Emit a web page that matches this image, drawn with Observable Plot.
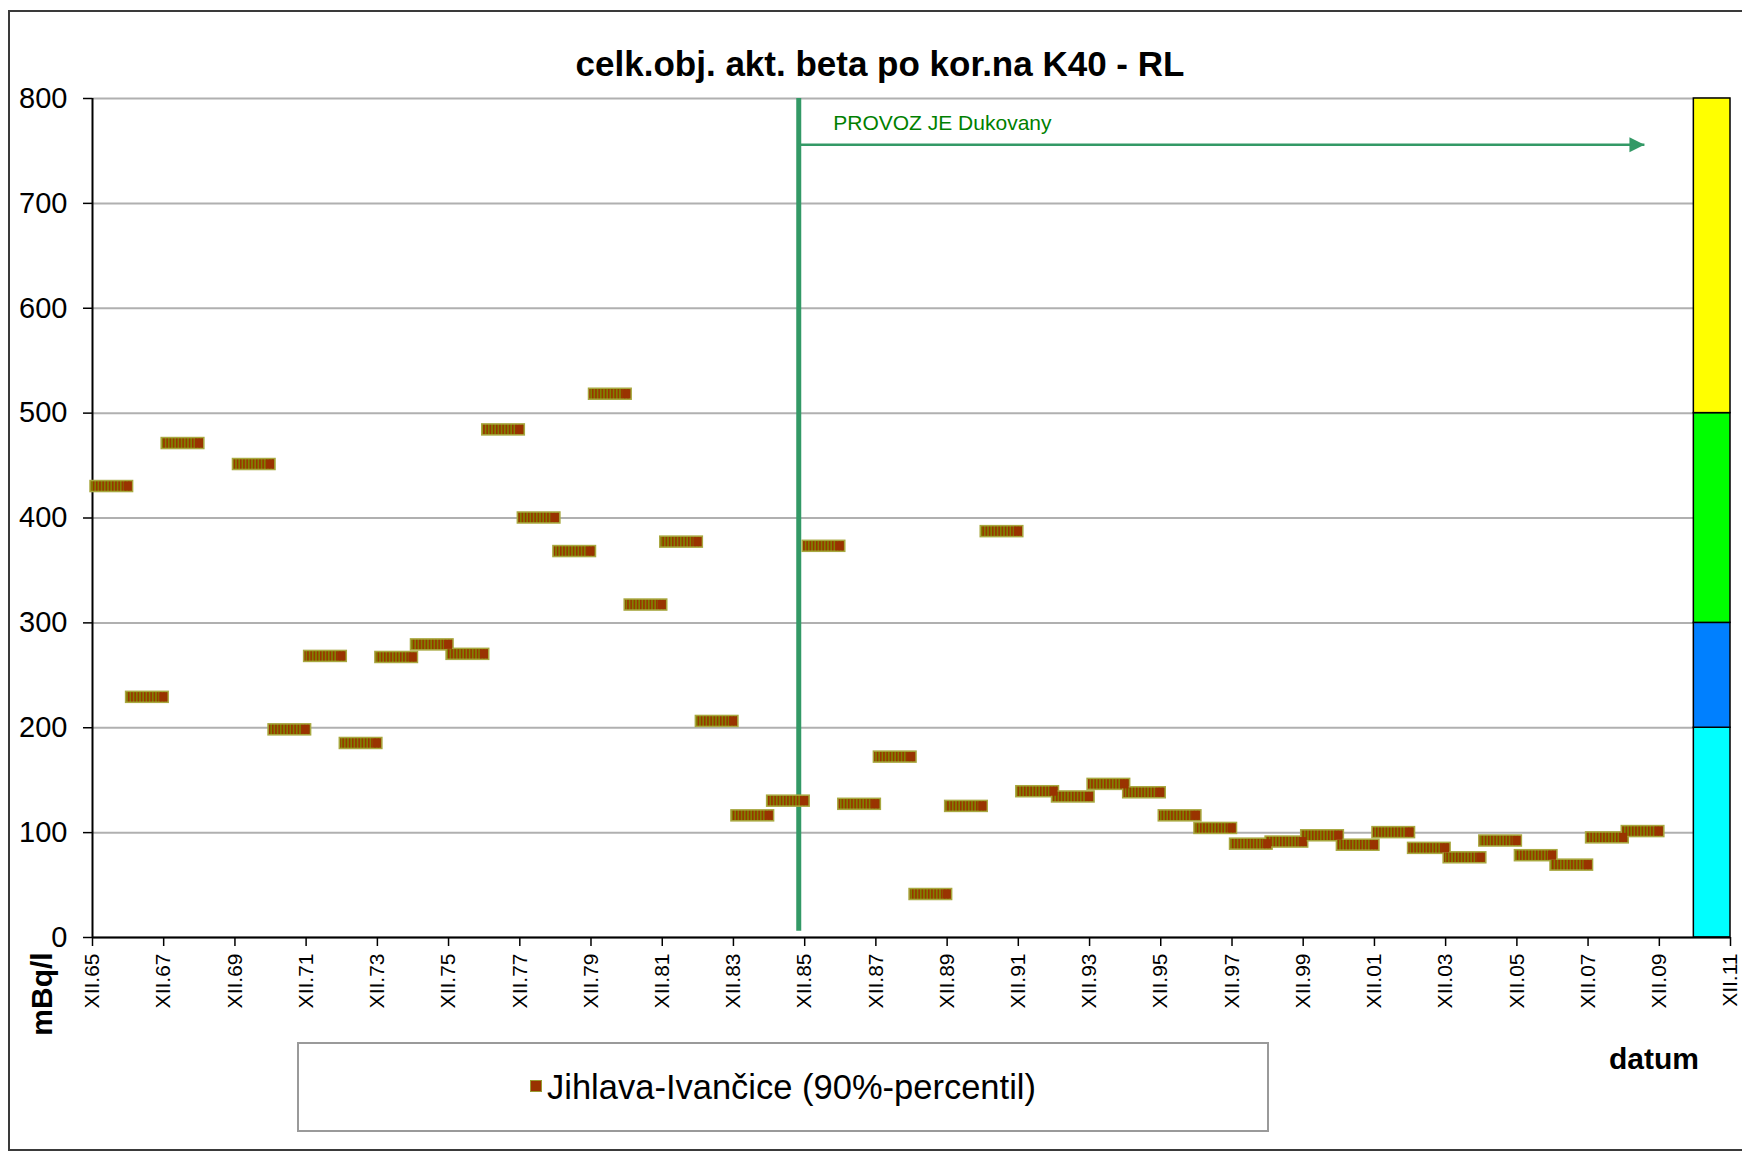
<!DOCTYPE html>
<html>
<head>
<meta charset="utf-8">
<script src="https://cdn.jsdelivr.net/npm/d3@7"></script>
<script src="https://cdn.jsdelivr.net/npm/@observablehq/plot@0.6"></script>
<style>
  body { margin: 0; background: white; font-family: "Liberation Sans", Arial, sans-serif; }
  #wrap { position: relative; width: 1742px; height: 1152px; overflow: hidden; }
  #frame { position: absolute; left: 8px; top: 10px; width: 1740px; height: 1141px; border: 2px solid #3a3a3a; box-sizing: border-box; pointer-events: none; }
  .abs { position: absolute; white-space: nowrap; transform: translate(-50%, -50%); color: #000; }
  #title { left: 880px; top: 64px; font-size: 35px; font-weight: bold; }
  #ylab { left: 42px; top: 994px; font-size: 30px; font-weight: bold; transform: translate(-50%, -50%) rotate(-90deg); }
  #xlab { left: 1654px; top: 1059px; font-size: 30px; font-weight: bold; }
  #legend { position: absolute; left: 297px; top: 1042px; width: 972px; height: 90px; border: 2px solid #9a9a9a; box-sizing: border-box; display: flex; align-items: center; justify-content: center; font-size: 34.5px; }
  #legend .sw { width: 10px; height: 10px; background: #993300; border: 1px solid #9a9a30; margin-right: 5px; margin-top: -2px; }
</style>
</head>
<body>
<div id="wrap">
  <div id="chart"></div>
  <div id="frame"></div>
  <div id="title" class="abs">celk.obj. akt. beta po kor.na K40 - RL</div>
  <div id="ylab" class="abs">mBq/l</div>
  <div id="xlab" class="abs">datum</div>
  <div id="legend"><div class="sw"></div><span>Jihlava-Ivančice (90%-percentil)</span></div>
</div>
<script>
// ---- data ----
const years  = [1966,1967,1968,1970,1971,1972,1973,1974,1975,1976,1977,1978,1979,1980,1981,1982,1983,1984,1985,1986,1987,1988,1989,1990,1991,1992,1993,1994,1995,1996,1997,1998,1999,2000,2001,2002,2003,2004,2005,2006,2007,2008,2009];
const values = [430,229,471,451,198,268,185,267,279,270,484,400,368,518,317,377,206,116,130,373,127,172,41,125,387,139,134,146,138,116,104,89,91,97,88,100,85,76,92,78,69,95,101];

const tickYears = d3.range(1965, 2012, 2);
const yTicks = [0,100,200,300,400,500,600,700,800];

const bandLow    = [0, 200, 300, 500];
const bandHigh   = [200, 300, 500, 800];
const bandColors = ["#00ffff", "#0080ff", "#00ff00", "#ffff00"];
const bandStart  = new Date(Date.UTC(2010, 10, 20));
const bandEnd    = new Date(Date.UTC(2011, 11, 1));

const xStart = new Date(Date.UTC(1965, 11, 1));
const xEnd   = new Date(Date.UTC(2011, 11, 1));

const provozDate   = new Date(Date.UTC(1985, 9, 1));
const arrowEndDate = new Date(Date.UTC(2009, 6, 1));
const arrowValue   = 756;
const provozLineLow = 6, provozLineHigh = 800;
const provozLabel  = "PROVOZ JE Dukovany";
const provozLabelDate = new Date(Date.UTC(1986, 8, 20));
const provozLabelValue = 776;

// ---- derived tables ----
const data = years.map((y, i) => ({
  start: new Date(Date.UTC(y, 0, 1)),
  end: new Date(Date.UTC(y, 11, 1)),
  value: values[i]
}));
const bands = bandLow.map((lo, i) => ({lo, hi: bandHigh[i], color: bandColors[i]}));
const xTicks = tickYears.map(y => new Date(Date.UTC(y, 11, 1)));
const fmtX = d => "XII." + String(d.getUTCFullYear() % 100).padStart(2, "0");

const triRight = {
  draw(ctx, size) {
    const r = Math.sqrt(size / Math.PI);
    ctx.moveTo(0, 0);
    ctx.lineTo(-2 * r, -r);
    ctx.lineTo(-2 * r, r);
    ctx.closePath();
  }
};

const green = "#339966";
const olive = "#a8a840";

const plot = Plot.plot({
  width: 1742,
  height: 1152,
  marginLeft: 92,
  marginRight: 12,
  marginTop: 98,
  marginBottom: 215,
  style: {background: "transparent", fontFamily: "'Liberation Sans', Arial, sans-serif", color: "#000"},
  x: {type: "utc", domain: [xStart, xEnd]},
  y: {domain: [0, 800]},
  marks: [
    Plot.gridY(yTicks, {stroke: "#b0b0b0", strokeOpacity: 1, strokeWidth: 2}),
    Plot.rect(bands, {x1: () => bandStart, x2: () => bandEnd, y1: "lo", y2: "hi", fill: "color", stroke: "#000", strokeWidth: 1.5}),
    Plot.ruleY([0], {x1: xStart, x2: xEnd, stroke: "#000", strokeWidth: 2}),
    Plot.ruleX([xStart], {y1: 0, y2: 800, stroke: "#000", strokeWidth: 2}),
    Plot.axisY(yTicks, {tickSize: 9, tickPadding: 16, fontSize: 29, stroke: "#000", strokeWidth: 1.5, fill: "#000", label: null}),
    Plot.axisX(xTicks, {tickSize: 9, tickPadding: 7, tickRotate: -90, fontSize: 21, tickFormat: fmtX, stroke: "#000", strokeWidth: 1.5, fill: "#000", label: null}),
    Plot.ruleX([provozDate], {y1: provozLineLow, y2: provozLineHigh, stroke: green, strokeWidth: 5}),
    Plot.link([{a: provozDate, b: arrowEndDate, v: arrowValue}], {x1: "a", x2: "b", y1: "v", y2: "v", stroke: green, strokeWidth: 2.5}),
    Plot.dot([{x: arrowEndDate, y: arrowValue}], {x: "x", y: "y", r: 7.5, symbol: triRight, fill: green, stroke: "none"}),
    Plot.text([{x: provozLabelDate, y: provozLabelValue, t: provozLabel}], {x: "x", y: "y", text: "t", textAnchor: "start", fill: "#008000", fontSize: 21}),
    Plot.rect(data, {x1: "start", x2: "end", y1: "value", y2: "value", insetLeft: -5, insetRight: -5, insetTop: -5.5, insetBottom: -5.5, fill: "url(#stripes)", stroke: olive, strokeWidth: 1.5}),
    Plot.rect(data, {x1: "end", x2: "end", y1: "value", y2: "value", insetLeft: -4, insetRight: -4, insetTop: -4.5, insetBottom: -4.5, fill: "#993300"})
  ]
});

// stripe pattern for the markers
const ns = "http://www.w3.org/2000/svg";
const defs = document.createElementNS(ns, "defs");
defs.innerHTML = '<pattern id="stripes" patternUnits="userSpaceOnUse" width="3.2" height="12">' +
  '<rect width="3.2" height="12" fill="#808000"/><rect x="0" width="1.5" height="12" fill="#993300"/></pattern>';
plot.insertBefore(defs, plot.firstChild);

document.getElementById("chart").appendChild(plot);
</script>
</body>
</html>
